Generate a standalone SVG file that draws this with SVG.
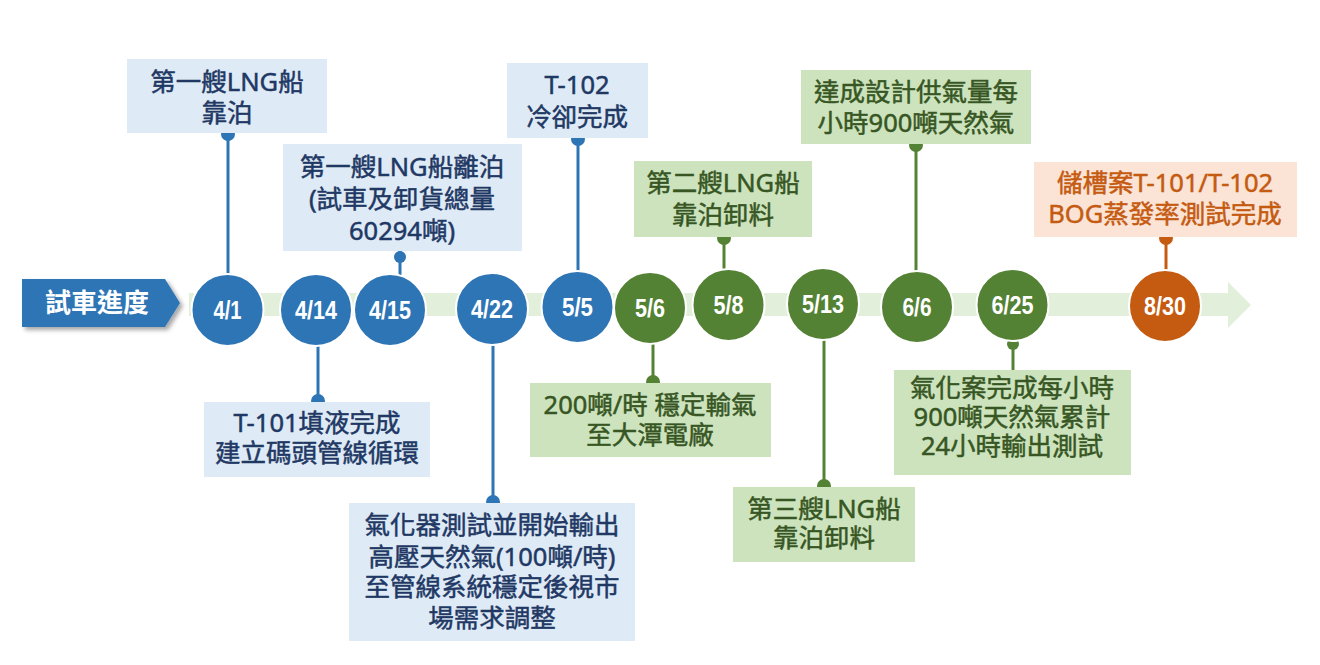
<svg xmlns="http://www.w3.org/2000/svg" width="1320" height="665" viewBox="0 0 1320 665">
<defs>
<filter id="sh" x="-10%" y="-20%" width="130%" height="150%">
<feDropShadow dx="3" dy="3" stdDeviation="2" flood-color="#000" flood-opacity="0.35"/>
</filter>
</defs>
<style>
.bx{fill:#DEEBF7}
.gx{fill:#CCE3BD}
.ox{fill:#FBE4D5}
.t{font-family:"Noto Sans","Noto Sans CJK TC",sans-serif;font-size:25.5px;font-weight:normal;text-anchor:middle;stroke-width:0.5px}
.tb{fill:#1F3864;stroke:#1F3864}
.tg{fill:#375623;stroke:#375623}
.to{fill:#C55A11;stroke:#C55A11}
.c{stroke:#fff;stroke-width:2}
.cb{fill:#2E75B6}
.cg{fill:#548235}
.co{fill:#C55A11}
.ct{font-family:"Liberation Sans Narrow","Liberation Sans",sans-serif;font-weight:bold;font-size:25px;fill:#fff;text-anchor:middle}
.lb{stroke:#2E75B6;stroke-width:3;fill:none}
.lg{stroke:#548235;stroke-width:3;fill:none}
.lo{stroke:#C55A11;stroke-width:3;fill:none}
</style>
<rect width="1320" height="665" fill="#fff"/>
<g id="band">
<rect x="189" y="293" width="1040" height="23" fill="#E2EFDA"/>
<polygon points="1228,282 1251,305 1228,328" fill="#E2EFDA"/>
</g>
<g id="title">
<polygon points="22,279 165,279 180,303 165,327 22,327" fill="#2E75B6" filter="url(#sh)"/>
<text x="97" y="312" font-family="Noto Sans CJK TC,sans-serif" font-weight="bold" font-size="26" fill="#fff" text-anchor="middle">試車進度</text>
</g>
<g id="connectors">
<line class="lb" x1="228" y1="133" x2="228" y2="290"/><circle cx="228" cy="134" r="7" fill="#2E75B6"/>
<line class="lb" x1="400" y1="251" x2="400" y2="290"/><circle cx="400" cy="257" r="6" fill="#2E75B6"/>
<line class="lb" x1="578" y1="138" x2="578" y2="290"/><circle cx="578" cy="139" r="7" fill="#2E75B6"/>
<line class="lg" x1="724" y1="237" x2="724" y2="290"/><circle cx="724" cy="238" r="7" fill="#548235"/>
<line class="lg" x1="916" y1="144" x2="916" y2="290"/><circle cx="916" cy="145" r="7" fill="#548235"/>
<line class="lo" x1="1166" y1="237" x2="1166" y2="290"/><circle cx="1166" cy="238" r="7" fill="#C55A11"/>
<line class="lb" x1="318" y1="330" x2="318" y2="402"/><circle cx="318" cy="401" r="7" fill="#2E75B6"/>
<line class="lb" x1="493" y1="330" x2="493" y2="503"/><circle cx="493" cy="502" r="7" fill="#2E75B6"/>
<line class="lg" x1="653" y1="330" x2="653" y2="383"/><circle cx="653" cy="382" r="7" fill="#548235"/>
<line class="lg" x1="824" y1="330" x2="824" y2="487"/><circle cx="824" cy="486" r="7" fill="#548235"/>
<line class="lg" x1="1013" y1="330" x2="1013" y2="370"/><circle cx="1013" cy="344" r="6" fill="#548235"/>
</g>
<g id="box1"><rect class="bx" x="127" y="59" width="200" height="74"/><text class="t tb" x="227" y="91">第一艘LNG船</text><text class="t tb" x="227" y="122">靠泊</text></g>
<g id="box2"><rect class="bx" x="283" y="144" width="239" height="107"/><text class="t tb" x="402" y="176">第一艘LNG船離泊</text><text class="t tb" x="402" y="208">(試車及卸貨總量</text><text class="t tb" x="402" y="240">60294噸)</text></g>
<g id="box3"><rect class="bx" x="507" y="63" width="141" height="75"/><text class="t tb" x="577" y="94">T-102</text><text class="t tb" x="577" y="126">冷卻完成</text></g>
<g id="box4"><rect class="gx" x="634" y="161" width="178" height="76"/><text class="t tg" x="723" y="192">第二艘LNG船</text><text class="t tg" x="723" y="224">靠泊卸料</text></g>
<g id="box5"><rect class="gx" x="801" y="70" width="230" height="74"/><text class="t tg" x="916" y="101">達成設計供氣量每</text><text class="t tg" x="916" y="132">小時900噸天然氣</text></g>
<g id="box6"><rect class="ox" x="1034" y="162" width="263" height="75"/><text class="t to" x="1165" y="192">儲槽案T-101/T-102</text><text class="t to" x="1165" y="223">BOG蒸發率測試完成</text></g>
<g id="box7"><rect class="bx" x="204" y="402" width="226" height="75"/><text class="t tb" x="317" y="432">T-101填液完成</text><text class="t tb" x="317" y="462">建立碼頭管線循環</text></g>
<g id="box8"><rect class="bx" x="349" y="503" width="286" height="138"/><text class="t tb" x="492" y="534">氣化器測試並開始輸出</text><text class="t tb" x="492" y="566">高壓天然氣(100噸/時)</text><text class="t tb" x="492" y="596">至管線系統穩定後視市</text><text class="t tb" x="492" y="627">場需求調整</text></g>
<g id="box9"><rect class="gx" x="530" y="383" width="241" height="74"/><text class="t tg" x="650" y="414">200噸/時 穩定輸氣</text><text class="t tg" x="650" y="444">至大潭電廠</text></g>
<g id="box10"><rect class="gx" x="733" y="487" width="182" height="75"/><text class="t tg" x="824" y="518">第三艘LNG船</text><text class="t tg" x="824" y="547">靠泊卸料</text></g>
<g id="box11"><rect class="gx" x="894" y="370" width="237" height="105"/><text class="t tg" x="1012" y="397">氣化案完成每小時</text><text class="t tg" x="1012" y="426">900噸天然氣累計</text><text class="t tg" x="1012" y="455">24小時輸出測試</text></g>
<g id="n41"><circle class="c cb" cx="227.5" cy="310" r="36"/><text class="ct" x="227.5" y="319" textLength="28" lengthAdjust="spacingAndGlyphs">4/1</text></g>
<g id="n414"><circle class="c cb" cx="316" cy="310" r="36"/><text class="ct" x="316" y="319" textLength="42" lengthAdjust="spacingAndGlyphs">4/14</text></g>
<g id="n415"><circle class="c cb" cx="390" cy="310" r="36"/><text class="ct" x="390" y="319" textLength="42" lengthAdjust="spacingAndGlyphs">4/15</text></g>
<g id="n422"><circle class="c cb" cx="492" cy="309" r="36"/><text class="ct" x="492" y="318" textLength="42" lengthAdjust="spacingAndGlyphs">4/22</text></g>
<g id="n55"><circle class="c cb" cx="577.5" cy="307" r="36"/><text class="ct" x="577.5" y="316" textLength="31" lengthAdjust="spacingAndGlyphs">5/5</text></g>
<g id="n56"><circle class="c cg" cx="650" cy="308" r="36"/><text class="ct" x="650" y="317" textLength="30" lengthAdjust="spacingAndGlyphs">5/6</text></g>
<g id="n58"><circle class="c cg" cx="728.5" cy="305" r="36"/><text class="ct" x="728.5" y="314" textLength="30" lengthAdjust="spacingAndGlyphs">5/8</text></g>
<g id="n513"><circle class="c cg" cx="823" cy="304" r="36"/><text class="ct" x="823" y="313" textLength="42" lengthAdjust="spacingAndGlyphs">5/13</text></g>
<g id="n66"><circle class="c cg" cx="917" cy="307" r="36"/><text class="ct" x="917" y="316" textLength="29" lengthAdjust="spacingAndGlyphs">6/6</text></g>
<g id="n625"><circle class="c cg" cx="1012.5" cy="305" r="36"/><text class="ct" x="1012.5" y="314" textLength="42" lengthAdjust="spacingAndGlyphs">6/25</text></g>
<g id="n830"><circle class="c co" cx="1165" cy="306" r="36"/><text class="ct" x="1165" y="315" textLength="42" lengthAdjust="spacingAndGlyphs">8/30</text></g>
</svg>
